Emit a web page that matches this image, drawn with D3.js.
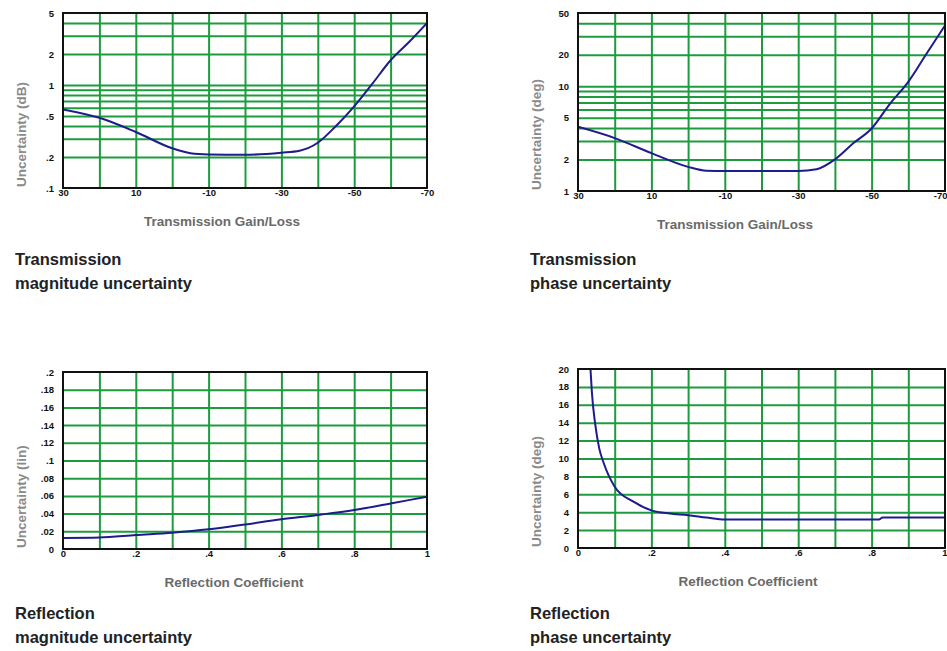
<!DOCTYPE html>
<html>
<head>
<meta charset="utf-8">
<script src="https://cdn.jsdelivr.net/npm/d3@7"></script>
<style>
body { margin: 0; background: #fff; }
svg { display: block; }
</style>
</head>
<body>
<div id="viz"></div>
<script>
// values
var gainLoss = [30, 20, 10, 0, -5, -10, -20, -30, -35, -40, -45, -50, -55, -60, -65, -70];
var transMag = [0.58, 0.48, 0.35, 0.243, 0.218, 0.212, 0.21, 0.22, 0.23, 0.275, 0.40, 0.62, 1.03, 1.74, 2.6, 4.0];
var transPhase = [4.1, 3.2, 2.3, 1.70, 1.56, 1.55, 1.55, 1.55, 1.61, 2.0, 2.85, 3.95, 6.8, 11, 20.5, 38];

var reflCoef = [0, 0.1, 0.2, 0.3, 0.4, 0.5, 0.6, 0.7, 0.8, 0.9, 1.0];
var reflMag = [0.0125, 0.013, 0.0158, 0.0184, 0.0222, 0.0277, 0.0335, 0.0384, 0.044, 0.0515, 0.059];

var reflCoefPh = [0.034, 0.038, 0.047, 0.058, 0.07, 0.1, 0.15, 0.2, 0.25, 0.3, 0.35, 0.4, 0.5, 0.6, 0.7, 0.82, 0.83, 0.9, 1.0];
var reflPhase = [20, 17.3, 13.8, 11.1, 9.5, 6.85, 5.2, 4.2, 3.85, 3.67, 3.4, 3.18, 3.18, 3.18, 3.18, 3.18, 3.4, 3.4, 3.4];

var gainTicks = [30, 10, -10, -30, -50, -70];
var reflTicks = [0, 0.2, 0.4, 0.6, 0.8, 1];
var magTicks = [5, 2, 1, 0.5, 0.2, 0.1];
var phaseTicks = [50, 20, 10, 5, 2, 1];
var reflMagTicks = [0.2, 0.18, 0.16, 0.14, 0.12, 0.1, 0.08, 0.06, 0.04, 0.02, 0];
var reflPhaseTicks = [20, 18, 16, 14, 12, 10, 8, 6, 4, 2, 0];

var W = 947, H = 651;
var green = "#1c9c3e", navy = "#1c1c8c";

var svg = d3.select("#viz").append("svg")
  .attr("width", W).attr("height", H);

function fmt(v) {
  if (v == 0) return "0";
  return String(v).replace(/^0\./, ".");
}

function logGrid(lo, hi) {
  var out = [];
  for (var d = lo; d < hi; d *= 10) {
    for (var k = 1; k < 10; k++) {
      var v = +(d * k).toPrecision(3);
      if (v > lo && v < hi) out.push(v);
    }
  }
  return out;
}

function panel(p) {
  var g = svg.append("g");
  var w = p.x1 - p.x0, h = p.y1 - p.y0;

  var x = d3.scaleLinear().domain(p.xDomain).range([p.x0, p.x1]);
  var y = (p.log ? d3.scaleLog() : d3.scaleLinear()).domain(p.yDomain).range([p.y1, p.y0]);

  // grid ----
  g.append("g")
    .attr("transform", "translate(0," + p.y1 + ")")
    .call(d3.axisBottom(x).tickValues(p.xGrid).tickSize(-h).tickFormat(""))
    .call(s => s.select(".domain").remove())
    .selectAll("line").attr("stroke", green).attr("stroke-width", 2);

  g.append("g")
    .attr("transform", "translate(" + p.x0 + ",0)")
    .call(d3.axisLeft(y).tickValues(p.yGrid).tickSize(-w).tickFormat(""))
    .call(s => s.select(".domain").remove())
    .selectAll("line").attr("stroke", green).attr("stroke-width", 2);

  // curve ----
  var clipId = "clip" + p.id;
  g.append("clipPath").attr("id", clipId)
    .append("rect").attr("x", p.x0).attr("y", p.y0).attr("width", w).attr("height", h);

  var line = d3.line()
    .x(function(d) { return x(d[0]); })
    .y(function(d) { return y(d[1]); })
    .curve(d3.curveMonotoneX);

  g.append("path")
    .datum(d3.zip(p.xs, p.ys))
    .attr("clip-path", "url(#" + clipId + ")")
    .attr("d", line)
    .attr("fill", "none")
    .attr("stroke", navy)
    .attr("stroke-width", 2);

  // frame
  g.append("rect")
    .attr("x", p.x0).attr("y", p.y0).attr("width", w).attr("height", h)
    .attr("fill", "none").attr("stroke", "#111").attr("stroke-width", 2);

  // tick labels ----
  var xa = g.append("g")
    .attr("transform", "translate(0," + p.y1 + ")")
    .call(d3.axisBottom(x).tickValues(p.xTicks).tickSize(0).tickPadding(1).tickFormat(p.xFmt || fmt));
  xa.select(".domain").remove();
  if (p.x1 > 940) {
    // keep the last label inside the page
    xa.selectAll(".tick:last-of-type text").attr("text-anchor", "end").attr("dx", "2");
  }

  var ya = g.append("g")
    .attr("transform", "translate(" + p.x0 + ",0)")
    .call(d3.axisLeft(y).tickValues(p.yTicks).tickSize(0).tickPadding(9).tickFormat(fmt));
  ya.select(".domain").remove();

  g.selectAll(".tick text")
    .attr("fill", "#111")
    .style("font-family", "'Liberation Sans', Arial, sans-serif")
    .style("font-weight", "bold")
    .style("font-size", "9.5px");

  // axis titles ----
  g.append("text")
    .attr("transform", "translate(" + (p.x0 - 37) + "," + (p.y1 - 1) + ") rotate(-90)")
    .attr("text-anchor", "start")
    .attr("fill", "#8a8a8a")
    .style("font-family", "'Liberation Sans', Arial, sans-serif")
    .style("font-weight", "bold")
    .style("font-size", "13.5px")
    .text(p.yLabel);

  g.append("text")
    .attr("x", p.xLabelX)
    .attr("y", p.y1 + 38)
    .attr("text-anchor", "middle")
    .attr("fill", "#6a6a6a")
    .style("font-family", "'Liberation Sans', Arial, sans-serif")
    .style("font-weight", "bold")
    .style("font-size", "13.5px")
    .text(p.xLabel);

  // caption ----
  var cap = g.append("text")
    .attr("fill", "#222")
    .style("font-family", "'Liberation Sans', Arial, sans-serif")
    .style("font-weight", "bold")
    .style("font-size", "16.5px");
  cap.append("tspan").attr("x", p.capX).attr("y", p.capY).text(p.caption[0]);
  cap.append("tspan").attr("x", p.capX).attr("y", p.capY + 24).text(p.caption[1]);
}

panel({
  id: 1, x0: 63, x1: 427, y0: 13, y1: 188,
  xDomain: [30, -70], xGrid: d3.range(20, -70, -10), xTicks: gainTicks,
  log: true, yDomain: [0.1, 5], yGrid: logGrid(0.1, 5), yTicks: magTicks,
  xs: gainLoss, ys: transMag,
  yLabel: "Uncertainty (dB)", xLabel: "Transmission Gain/Loss", xLabelX: 222,
  caption: ["Transmission", "magnitude uncertainty"], capX: 15, capY: 265
});

panel({
  id: 2, x0: 578, x1: 945, y0: 13, y1: 191,
  xDomain: [30, -70], xGrid: d3.range(20, -70, -10), xTicks: gainTicks,
  log: true, yDomain: [1, 50], yGrid: logGrid(1, 50), yTicks: phaseTicks,
  xs: gainLoss, ys: transPhase,
  yLabel: "Uncertainty (deg)", xLabel: "Transmission Gain/Loss", xLabelX: 735,
  caption: ["Transmission", "phase uncertainty"], capX: 530, capY: 265
});

panel({
  id: 3, x0: 63, x1: 427, y0: 372, y1: 549,
  xDomain: [0, 1], xGrid: d3.range(0.1, 1, 0.1), xTicks: reflTicks,
  log: false, yDomain: [0, 0.2], yGrid: d3.range(0.02, 0.2, 0.02), yTicks: reflMagTicks,
  xs: reflCoef, ys: reflMag,
  yLabel: "Uncertainty (lin)", xLabel: "Reflection Coefficient", xLabelX: 234,
  caption: ["Reflection", "magnitude uncertainty"], capX: 15, capY: 619
});

panel({
  id: 4, x0: 578, x1: 945, y0: 369, y1: 548,
  xDomain: [0, 1], xGrid: d3.range(0.1, 1, 0.1), xTicks: reflTicks,
  log: false, yDomain: [0, 20], yGrid: d3.range(2, 20, 2), yTicks: reflPhaseTicks,
  xs: reflCoefPh, ys: reflPhase,
  yLabel: "Uncertainty (deg)", xLabel: "Reflection Coefficient", xLabelX: 748,
  caption: ["Reflection", "phase uncertainty"], capX: 530, capY: 619
});
</script>
</body>
</html>
